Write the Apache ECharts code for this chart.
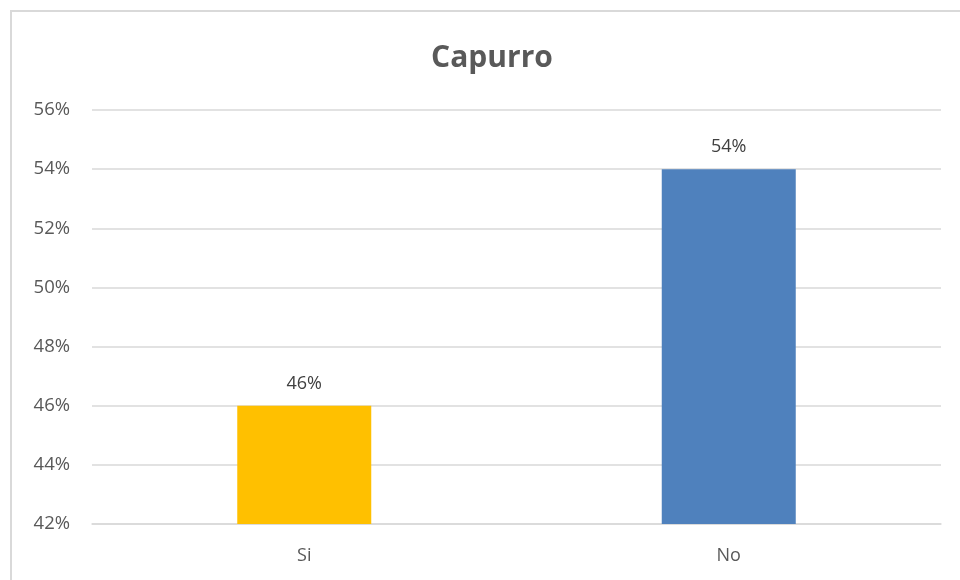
<!DOCTYPE html>
<html><head><meta charset="utf-8">
<script src="https://cdn.jsdelivr.net/npm/echarts@6/dist/echarts.min.js"></script>
<style>html,body{margin:0;padding:0;background:#fff}#c{width:960px;height:580px}</style>
</head><body><div id="c"></div>
<script>
const categories = ['Si', 'No'];
const values = [46, 54];
const barColors = ['#FFC000', '#4F81BD'];
const yTicks = { min: 42, max: 56, interval: 2 };

const chart = echarts.init(document.getElementById('c'));
const font = '"Open Sans", "Noto Sans", sans-serif';
chart.setOption({
  animation: false,
  backgroundColor: '#fff',
  title: {
    text: 'Capurro', left: 487, top: 38, textAlign: 'center',
    textStyle: { fontFamily: font, fontSize: 30, fontWeight: 'bold', color: '#595959' }
  },
  graphic: [{
    type: 'rect', shape: { x: 11, y: 11, width: 980, height: 600 },
    style: { fill: 'none', stroke: '#d9d9d9', lineWidth: 2 }, silent: true
  }],
  grid: { left: 92, right: 19, top: 110, bottom: 56, containLabel: false },
  xAxis: {
    type: 'category', data: categories,
    axisLine: { show: true, lineStyle: { color: '#d9d9d9', width: 1.5 } },
    axisTick: { show: false },
    axisLabel: { color: '#595959', fontFamily: font, fontSize: 18, margin: 23 }
  },
  yAxis: {
    type: 'value', min: yTicks.min, max: yTicks.max, interval: yTicks.interval,
    axisLine: { show: false }, axisTick: { show: false },
    axisLabel: { color: '#595959', fontFamily: font, fontSize: 18.5, margin: 22, formatter: v => v + '%' },
    splitLine: { lineStyle: { color: '#d9d9d9', width: 1.5 } }
  },
  series: [{
    type: 'bar', barWidth: 134,
    data: values.map((v, i) => ({ value: v, itemStyle: { color: barColors[i] } })),
    label: { show: true, position: 'top', distance: 13, formatter: p => p.value + '%',
      color: '#404040', fontFamily: font, fontSize: 18 }
  }]
});
</script></body></html>
